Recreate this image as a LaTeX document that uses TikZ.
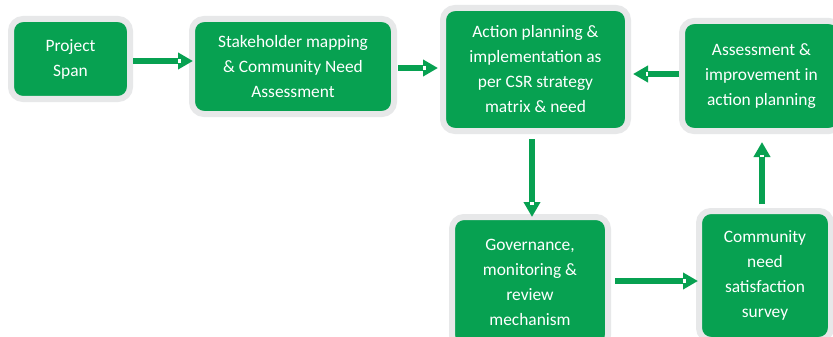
\documentclass[tikz,border=0pt]{standalone}
\usepackage{fontspec}
\setmainfont{Carlito}
\usetikzlibrary{arrows.meta}
\definecolor{csrgreen}{RGB}{7,161,81}
\definecolor{rimgray}{RGB}{231,232,233}
\tikzset{
  x=1pt, y=-1pt,
  stage/.style={rectangle, rounded corners=12pt, fill=csrgreen, draw=rimgray,
    line width=6pt, inner sep=0pt, align=center, text=white,
    font=\fontsize{17.4}{25}\selectfont},
  flow/.style={draw=csrgreen, line width=5.5pt,
    -{Triangle[length=15pt,width=16pt]}},
  notch/.style={fill=white}
}
% small white slot just behind each arrow head; #1 = tip, #2 = direction
\newcommand\headslot[2]{\fill[notch,shift={#1},rotate=#2] (-15pt,-1.8pt) rectangle (-12.5pt,1.8pt);}
\begin{document}
\begin{tikzpicture}
\useasboundingbox (0,0) rectangle (833,337);
\clip (0,0) rectangle (833,337);
\fill[white] (0,0) rectangle (833,337);

\node[stage, minimum width=119pt, minimum height=80pt] (span) at (70.5,59) {Project\\Span};
\node[stage, minimum width=202pt, minimum height=95pt] (need) at (293,66.5) {Stakeholder mapping\\\& Community Need\\Assessment};
\node[stage, minimum width=185pt, minimum height=123pt] (plan) at (535.5,69.5) {Action planning \&\\implementation as\\per CSR strategy\\matrix \& need};
\node[stage, minimum width=159pt, minimum height=110pt] (assess) at (761.5,76) {Assessment \&\\improvement in\\action planning};
\node[stage, minimum width=156pt, minimum height=130pt] (govern) at (530,282) {Governance,\\monitoring \&\\review\\mechanism};
\node[stage, minimum width=132pt, minimum height=129pt] (survey) at (765,275.5) {Community\\need\\satisfaction\\survey};

\draw[flow, shorten >=-4pt] (span.east |- 0,61) -- (need.west |- 0,61);
\draw[flow, shorten >=2pt, shorten <=1pt] (need.east |- 0,68) -- (plan.west |- 0,68);
\draw[flow, shorten >=2pt] (assess.west |- 0,74) -- (plan.east |- 0,74);
\draw[flow, shorten >=-3pt, shorten <=5pt] (plan.south -| 532,0) -- (govern.north -| 532,0);
\draw[flow, shorten >=-2pt, shorten <=4pt] (govern.east |- 0,281) -- (survey.west |- 0,281);
\draw[flow, shorten >=8pt, shorten <=4pt] (survey.north -| 762,0) -- (assess.south -| 762,0);

\headslot{(193,61)}{0}
\headslot{(438,68)}{0}
\headslot{(633,74)}{180}
\headslot{(532,217)}{-90}
\headslot{(698,281)}{0}
\headslot{(762,142)}{90}
\end{tikzpicture}
\end{document}
